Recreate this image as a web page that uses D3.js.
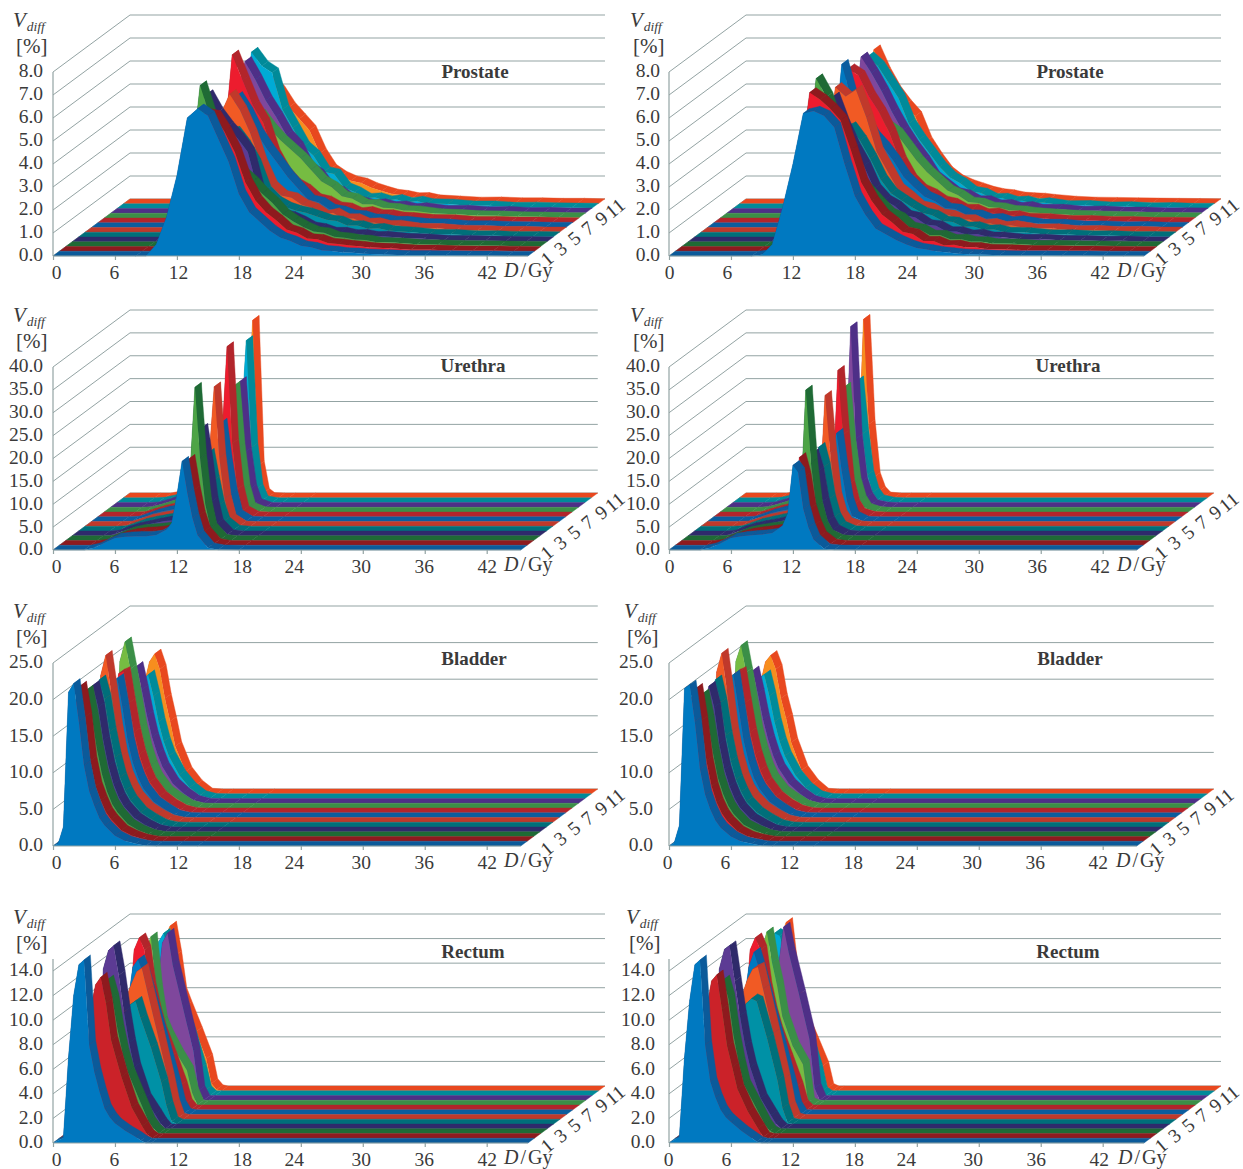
<!DOCTYPE html>
<html>
<head>
<meta charset="utf-8">
<script src="https://d3js.org/d3.v7.min.js"></script>
<style>
    body { margin: 0; background: #fff; }
    svg { display: block; }
    text { font-family: "Liberation Serif", serif; fill: #3a3a3a; }
    .grid { stroke: #93a3a3; stroke-width: 1; fill: none; }
    .axis path, .axis line { stroke: #93a3a3; stroke-width: 1.2; }
    .axis text { font-family: "Liberation Serif", serif; font-size: 19.5px; fill: #3a3a3a; }
</style>
</head>
<body>
<svg id="chart-area" width="1243" height="1169"></svg>
<script>
// Series run front to back, fraction numbers 1..12
var faceColors = ["#0079c1", "#ed1c2e", "#4da446", "#5c3b94", "#0091a6", "#f15a24",
                  "#0079c1", "#ed1c2e", "#76bc42", "#7f479c", "#00abd5", "#f78e1e"];
var topColors  = ["#0b5a9a", "#8e1a1e", "#1f6a35", "#2f2a6b", "#006f7a", "#c0392b",
                  "#0b5d9e", "#b2252b", "#3b8f47", "#4e2f87", "#008a99", "#e8481f"];
var rectumFace2 = "#cb2229";

var doseTicks = [0, 6, 12, 18, 24, 30, 36, 42];
var doseTickNudge = [3, -1, 1, 3, -7, -2, -1, 0];
var depthLabels = ["1", "3", "5", "7", "9", "11"];
var depthPositions = [0, 2, 4, 6, 8, 10];

var prostateTicks = [0, 1, 2, 3, 4, 5, 6, 7, 8];
var urethraTicks = [0, 5, 10, 15, 20, 25, 30, 35, 40];
var bladderTicks = [0, 5, 10, 15, 20, 25];
var rectumTicks = [0, 2, 4, 6, 8, 10, 12, 14];

var prostateDoses = [0, 8, 9, 10, 11, 12, 13, 14, 15, 16, 17, 18, 19, 20, 21, 22, 23, 24, 25, 26, 27, 28, 29, 30, 32, 34, 36, 38, 40, 42, 44, 46];
var urethraDoses = [0, 3, 4, 5, 6, 7, 8, 9, 10, 11, 11.5, 12, 12.5, 13, 13.5, 14, 15, 16, 18, 45.3];
var bladderDoses = [0, .5, 1, 1.5, 2, 2.5, 3, 3.5, 4, 4.5, 5, 6, 7, 8, 9, 10, 12, 14, 45.3];
var rectumDoses = [0, 1, 1.5, 2, 2.5, 3, 3.5, 4, 4.5, 5, 5.5, 6, 7, 8, 8.5, 9, 9.5, 46];

var prostateLeft = [
    [0,0,0,.5,1.7,3.5,6,6.4,6.1,5.1,4.1,2.7,1.9,1.5,1.1,.8,.65,.45,.38,.25,.22,.15,.14,.1,.07,.03,.03,.02,.01,.01,0,0],
    [0,0,0,.3,1.3,3,5.4,6,5.9,5.2,4.3,3,2.2,1.7,1.35,.95,.8,.55,.52,.36,.32,.26,.22,.16,.13,.07,.06,.03,.02,.02,.01,0],
    [0,0,0,.2,1.2,2.9,7,5.6,4.7,3.7,3.2,2.8,2.3,1.9,1.4,1.1,.85,.65,.6,.42,.38,.3,.28,.2,.16,.1,.08,.05,.04,.03,.02,.01],
    [0,0,0,.2,1.2,3,6.4,5.6,5,4.5,3.9,2.2,1.6,1.2,1.1,.9,.65,.58,.42,.42,.32,.33,.24,.25,.16,.13,.07,.07,.04,.03,.02,.01],
    [0,0,0,.1,1,2.5,4,4.6,4.6,4,3.2,2,1.55,1.3,1.15,1.05,.9,.75,.7,.5,.5,.36,.38,.28,.22,.13,.12,.07,.06,.03,.03,.02],
    [0,0,0,.1,1,2.6,5,6,5.3,4.3,3,2,1.6,1.5,1.2,1.05,.75,.85,.6,.6,.4,.42,.3,.32,.18,.17,.1,.09,.05,.05,.02,.02],
    [0,0,0,.1,.9,2.4,4.5,5.7,5,4.1,3.4,2.8,2.2,1.7,1.2,1.1,.8,.72,.55,.52,.38,.37,.28,.28,.18,.16,.09,.09,.05,.04,.02,.02],
    [0,0,0,.1,.8,2.4,7.3,6.2,5.1,4.35,3,2.2,1.7,1.45,1.05,.95,.7,.65,.45,.5,.36,.36,.26,.24,.15,.14,.07,.07,.04,.04,.02,.01],
    [0,0,0,.1,.8,2.2,4,4.5,4.5,3.9,3.4,3,2.6,2.1,1.6,1.35,.95,.85,.6,.6,.45,.42,.33,.32,.2,.16,.11,.1,.06,.05,.03,.02],
    [0,0,0,.1,.9,4.5,6.6,5.8,4.9,4.2,3.4,2.9,2,1.7,1.1,.95,.6,.5,.38,.42,.3,.33,.22,.25,.13,.14,.08,.09,.04,.05,.02,.02],
    [0,0,0,.1,.9,2.8,6.8,6.2,5.9,4.3,3.5,2.7,2.3,1.6,1.5,.9,.72,.45,.48,.34,.4,.26,.33,.22,.2,.12,.12,.06,.07,.04,.03,.02],
    [0,0,0,.1,.8,2.3,4.5,5.4,4.9,4.2,3.7,3.2,2.2,1.5,1.2,1,.9,.7,.55,.42,.37,.27,.28,.18,.13,.08,.09,.05,.05,.03,.03,.01]
];
var prostateRight = [
    [0,0,.05,.5,2.1,4,6.2,6.3,6.1,5.6,4,2.6,1.8,1.2,.95,.7,.5,.35,.28,.2,.15,.1,.08,.06,.03,.02,.02,.01,.01,0,0,0],
    [0,0,.02,.4,1.7,3.5,6.9,6.6,6.2,5.7,4.4,3,2.2,1.6,1.25,.85,.75,.45,.45,.26,.28,.17,.17,.1,.08,.04,.04,.02,.02,.01,0,0],
    [0,0,0,.3,1.5,3.3,7.3,6.5,5.1,3.8,2.9,2.4,1.9,1.45,1.25,.85,.75,.5,.5,.32,.33,.22,.22,.13,.12,.06,.06,.04,.03,.02,.01,.01],
    [0,0,0,.2,1.2,3,5.5,6.3,5.1,4.1,3.3,2.3,1.8,1.55,1.15,1.05,.75,.7,.45,.45,.3,.34,.22,.22,.12,.12,.06,.06,.03,.04,.01,.01],
    [0,0,0,.1,1,2.4,4,4.6,4.8,4.2,3.4,2.5,1.9,1.6,1.3,1.05,.95,.7,.65,.45,.46,.32,.33,.22,.2,.11,.11,.06,.06,.03,.03,.02],
    [0,0,0,.1,1,2.6,6.3,5.9,6.2,5,3.5,2.7,1.9,1.55,1.15,1.05,.8,.75,.55,.55,.35,.39,.26,.3,.15,.16,.08,.09,.04,.05,.02,.02],
    [0,0,0,.1,.9,2.4,7.1,5.5,4.8,4,3.5,2.9,2.2,1.75,1.35,1.15,.85,.8,.57,.55,.38,.4,.26,.3,.16,.15,.08,.08,.04,.05,.02,.02],
    [0,0,0,.1,.8,2.4,6.7,6.4,5.5,4.8,3.9,2.7,1.9,1.45,1.25,.95,.85,.6,.6,.4,.44,.29,.32,.21,.19,.11,.11,.06,.06,.03,.03,.02],
    [0,0,0,.1,.8,2.2,5,4.5,4.4,4,3.7,3.1,2.5,2,1.6,1.2,1,.7,.65,.48,.45,.34,.32,.25,.18,.13,.1,.08,.05,.04,.03,.02],
    [0,0,0,.1,.9,3,6.8,6.1,5.3,4.4,3.6,2.9,2.3,1.6,1.25,.9,.8,.55,.55,.37,.39,.26,.3,.18,.18,.1,.11,.06,.06,.03,.03,.02],
    [0,0,0,.1,.9,2.8,6.6,6.2,5.5,4.8,3.7,3,2.4,1.8,1.35,1.1,.75,.67,.45,.46,.31,.34,.22,.26,.13,.14,.08,.09,.04,.05,.02,.02],
    [0,0,0,.1,.8,2.5,6.7,5.7,4.9,4.3,3.8,2.7,2,1.4,1.05,.85,.7,.55,.45,.4,.3,.27,.25,.2,.12,.08,.07,.05,.04,.03,.02,.01]
];
var urethraLeft = [
    [0,0,.5,1.6,2.6,2.9,3,3,3.3,4.5,5.9,12,19.4,12.5,7,3.2,.5,.05,0,0],
    [0,0,.2,1.2,2.1,2.6,2.9,3,3.3,4.5,7,13,18.8,12,6.5,3,.4,0,0,0],
    [0,0,.1,1,1.9,2.4,2.6,2.8,3.1,4,6,14,33.5,18,8,2.8,.3,0,0,0],
    [0,0,.2,1.1,1.8,2.3,2.8,3.2,3.4,4,6,13,23.5,16,7.5,2.6,.3,0,0,0],
    [0,0,.1,.9,1.7,2.2,2.6,3,3.4,4.2,6,11,17,11,5.5,2,.2,0,0,0],
    [0,0,.1,.8,1.6,2.1,2.5,2.9,3.2,4,6.5,15,30.5,15,6,1.6,.1,0,0,0],
    [0,0,.1,.9,1.7,2.3,2.7,3.1,3.4,4.3,6.5,13,21.5,13,6,1.5,.1,0,0,0],
    [0,0,.1,.8,1.5,2,2.4,2.7,3.1,4,6.5,17,37.2,16,6,1.3,.1,0,0,0],
    [0,0,.1,.7,1.4,2,2.5,2.8,3.1,3.8,6,14,27.5,14,5,1,.1,0,0,0],
    [0,0,.1,.7,1.5,2.1,2.6,3,3.2,3.7,6,15,27.5,12,4,.8,0,0,0,0],
    [0,0,.1,.6,1.3,1.9,2.3,2.7,3,3.6,6,17,35.4,12,3,.4,0,0,0,0],
    [0,0,0,.5,1.2,1.7,2.2,2.6,2.9,3.2,6,18,38.8,7,1,.1,0,0,0,0]
];
var urethraRight = [
    [0,0,.5,1.5,2.6,3,3.2,3.4,3.7,5.3,8,18.5,17,9,5,2.3,.3,.05,0,0],
    [0,0,.2,1.2,2.1,2.7,3,3.3,3.6,5.5,8,19.2,15,8,4.5,2,.3,0,0,0],
    [0,0,.1,1,1.9,2.4,2.8,3.1,3.5,4.5,8,32.9,17,7.5,3.3,1.3,.2,0,0,0],
    [0,0,.2,1.1,1.8,2.3,2.7,3.2,3.6,4.5,7.5,18,14,7.5,3.3,1.3,.2,0,0,0],
    [0,0,.1,.9,1.7,2.2,2.7,3.1,3.6,4.6,8,18.3,14,7,3,1.1,.1,0,0,0],
    [0,0,.1,.8,1.6,2.1,2.5,3,3.4,4.2,7,28.6,16,6.5,2.5,.8,.1,0,0,0],
    [0,0,.1,.9,1.7,2.3,2.7,3,3.5,4.5,7,15,19.3,11,4.5,1.2,.1,0,0,0],
    [0,0,.1,.8,1.5,2,2.4,2.8,3.3,4.2,7,32,18,7,2.6,.8,.1,0,0,0],
    [0,0,.1,.7,1.4,2,2.5,2.8,3.2,4,7,27.3,15,6.5,2.6,.8,.1,0,0,0],
    [0,0,.1,.7,1.5,2.1,2.6,3,3.3,3.9,8,39.5,15,5.5,2.2,.6,.1,0,0,0],
    [0,0,.1,.6,1.3,1.9,2.3,2.7,3,3.7,7,26.6,15,6,2.2,.6,.1,0,0,0],
    [0,0,0,.5,1.2,1.7,2.2,2.6,2.9,3.3,8,39,16,4.5,1.4,.2,0,0,0,0]
];
var bladderLeft = [
    [0,.3,2.6,21,22.2,17,11,7.5,5.5,3.8,2.8,1.4,.7,.3,.05,0,0,0,0],
    [0,.2,2.2,19,21.2,17,11,7.5,5.6,4,3,1.5,.8,.3,.05,0,0,0,0],
    [0,.2,2,17,20,16.5,12,8.5,6.1,4.4,3.3,1.7,.9,.3,.05,0,0,0,0],
    [0,.2,2,17,20,17,12.5,9,6.5,4.7,3.5,1.9,1,.3,.05,0,0,0,0],
    [0,.2,2,17,20.1,17.5,13,9.5,6.8,5,3.7,2,1.1,.35,.05,0,0,0,0],
    [0,.2,2.2,20,22.8,18,13,9,6.5,4.8,3.6,2,1.1,.35,.05,0,0,0,0],
    [0,.1,1.5,14,18.5,19,15,10.5,7.5,5.5,4,2.2,1.2,.35,.05,0,0,0,0],
    [0,.1,1.5,14,19,19.3,15,11,8,5.8,4.2,2.3,1.2,.4,.05,0,0,0,0],
    [0,.2,2.2,20,22.7,19,15,11,8,5.8,4.2,2.3,1.3,.4,.05,0,0,0,0],
    [0,.1,1.5,13,18,18.7,15.5,12,9,6.8,5,2.7,1.4,.4,.05,0,0,0,0],
    [0,.1,1,8,14,16.2,16.9,14,10.5,7.8,5.8,3.2,1.5,.4,.05,0,0,0,0],
    [0,.1,1,8,15,18,19.1,17,13,9.9,6.5,3,1.2,.1,0,0,0,0,0]
];
var bladderRight = [
    [0,.4,2.8,21.5,22,17,10.5,7,5,3.5,2.5,1.3,.6,.3,.05,0,0,0,0],
    [0,.3,2.4,19.5,20.9,16.5,11,7.5,5.3,3.8,2.8,1.4,.7,.3,.05,0,0,0,0],
    [0,.2,2,17,19.5,16,11.5,8,5.8,4.2,3.1,1.6,.9,.3,.05,0,0,0,0],
    [0,.2,2,17,19.9,17,12,8.5,6.2,4.5,3.3,1.8,1,.3,.05,0,0,0,0],
    [0,.2,2,17.5,20.1,17,12.5,9,6.5,4.8,3.5,2,1.1,.35,.05,0,0,0,0],
    [0,.2,2.2,20.5,23.1,18,12.5,8.8,6.3,4.6,3.5,2,1.1,.35,.05,0,0,0,0],
    [0,.1,1.5,14,19,19.5,15,10.5,7.5,5.4,4,2.2,1.2,.35,.05,0,0,0,0],
    [0,.1,1.5,14,19,19.3,15,11,8,5.8,4.2,2.3,1.2,.4,.05,0,0,0,0],
    [0,.2,2.2,20,22.2,18.5,14.5,10.5,7.8,5.6,4.1,2.3,1.3,.4,.05,0,0,0,0],
    [0,.1,1.5,13,17.5,18.1,15,11.5,8.7,6.5,4.8,2.7,1.4,.4,.05,0,0,0,0],
    [0,.1,1,8,14,16.4,16.9,14,10.5,7.8,5.8,3.2,1.5,.4,.05,0,0,0,0],
    [0,.1,1,8,15,18,18.9,17,13,10.3,7,3.2,1.3,.1,0,0,0,0,0]
];
var rectumLeft = [
    [0,.4,7,12,14.5,14.9,8,5.8,4.2,2.8,2.1,1.6,1,.5,.2,0,0,0],
    [0,0,.2,1,4,10.5,12.5,13.1,11,8,6.5,5,2.5,1,.3,0,0,0],
    [0,0,.1,.5,3,9,11,12.5,11,8.5,6.5,5,3,1,.4,0,0,0],
    [0,0,0,.4,3,13,14.5,14.9,12.5,9.5,7,5,2.5,1.2,.5,0,0,0],
    [0,0,0,.2,1,4,7,8,9,9.7,10,8.6,6.2,3.4,1.5,.2,0,0],
    [0,0,0,.2,1,4,8,10,11,12,12.3,10.5,7,3.4,1.3,.1,0,0],
    [0,0,0,.2,1,4,9,12,12.6,11.5,10,8.5,5.5,2.5,.8,.1,0,0],
    [0,0,0,.2,1.5,7,13,14,13,10,8,6.5,4.3,2,.5,0,0,0],
    [0,0,0,.1,1,5,10,12.5,13.7,9.5,6.8,5.8,4.2,2.8,1,0,0,0],
    [0,0,0,.1,.5,1.5,3.5,6,9,12.8,13.6,11,7.5,4,.8,0,0,0],
    [0,0,0,.1,.8,4.5,10,12.5,13.2,11.5,9.5,7.5,5,2.2,.4,0,0,0],
    [0,0,0,.1,.8,4,9,12.5,13.4,11,8,6.9,4.8,2.6,.6,.1,0,0]
];
var rectumRight = [
    [0,.5,7,11.6,14.5,14.9,8,5,3.7,2.7,2.1,1.7,1,.4,.1,0,0,0],
    [0,0,.2,1,4,10.5,12.8,13.3,10.5,7.5,5.8,4,2.2,.8,.1,0,0,0],
    [0,0,.1,.5,3,9,11,12.5,11,8,5.8,4,2.4,.8,.2,0,0,0],
    [0,0,0,.4,3,13,14.6,14.9,12,9.2,6.8,5,2.5,1.1,.4,0,0,0],
    [0,0,0,.2,1,4,7,8.2,9.2,9.8,10.2,10,7,3.6,1.3,.1,0,0],
    [0,0,0,.2,1,4,8,10.2,11.4,12.2,12.4,10.6,7,3.3,1.1,.1,0,0],
    [0,0,0,.2,1,4,9,12,13.2,11.8,10.2,8.5,5.5,2.4,.7,0,0,0],
    [0,0,0,.2,1.5,7,13,14,13,10,8,6.5,4.2,1.9,.4,0,0,0],
    [0,0,0,.1,1,5,10,12.5,14.1,11.6,9.7,7.2,4.8,3.3,.2,0,0,0],
    [0,0,0,.1,.5,1.5,3,5.5,8,10.8,14.1,12,8.6,5,1,0,0,0],
    [0,0,0,.1,.8,4.5,10,13.2,13,11.5,9.5,7.5,5,2.2,.3,0,0,0],
    [0,0,0,.1,.8,4,9,12.5,13.7,10,7.5,6,4,2,.2,0,0,0]
];

DepthAreaChart = function(_parentElement, _opts){
    this.parentElement = _parentElement;
    this.opts = _opts;
    this.initVis();
};

DepthAreaChart.prototype.initVis = function(){
    var vis = this, o = vis.opts;

    vis.g = d3.select(vis.parentElement).append("g");

    vis.x = d3.scaleLinear().domain([0, 46]).range([o.x0, o.x0 + 475]);
    vis.y = d3.scaleLinear().domain([0, d3.max(o.ticks)]).range([o.y0, o.yTop]);
    // oblique depth: 12 series span the floor from the front edge to the back wall
    vis.zx = d3.scaleLinear().domain([0, 12]).range([0, 77]);
    vis.zy = d3.scaleLinear().domain([0, 12]).range([0, -57]);

    vis.drawWalls();
    vis.drawSeries();
    vis.drawAxes();
    vis.drawLabels();
};

DepthAreaChart.prototype.drawWalls = function(){
    var vis = this, o = vis.opts;
    var xEnd = vis.x(d3.max(o.doses)) + vis.zx(12);

    vis.g.selectAll(".back").data(o.ticks).enter().append("line")
        .attr("class", "grid back")
        .attr("x1", vis.x(0) + vis.zx(12))
        .attr("x2", xEnd)
        .attr("y1", function(d) { return vis.y(d) + vis.zy(12); })
        .attr("y2", function(d) { return vis.y(d) + vis.zy(12); });

    vis.g.selectAll(".side").data(o.ticks).enter().append("line")
        .attr("class", "grid side")
        .attr("x1", vis.x(0))
        .attr("x2", vis.x(0) + vis.zx(12))
        .attr("y1", function(d) { return vis.y(d); })
        .attr("y2", function(d) { return vis.y(d) + vis.zy(12); });
};

DepthAreaChart.prototype.drawSeries = function(){
    var vis = this, o = vis.opts;

    var area = d3.area()
        .x(function(d) { return vis.x(d.dose); })
        .y0(vis.y(0))
        .y1(function(d) { return vis.y(d.value); });

    // back series first so the nearer ones cover them
    d3.range(o.values.length - 1, -1, -1).forEach(function(k){
        var points = o.doses.map(function(dose, i) { return { dose: dose, value: o.values[k][i] }; });
        var layer = vis.g.append("g")
            .attr("transform", "translate(" + vis.zx(k) + "," + vis.zy(k) + ")");

        // top ribbon, one quad per segment
        layer.selectAll(".ribbon").data(d3.pairs(points)).enter().append("path")
            .attr("class", "ribbon")
            .attr("fill", topColors[k])
            .attr("stroke", topColors[k])
            .attr("stroke-width", 0.4)
            .attr("d", function(d) {
                var ax = vis.x(d[0].dose), ay = vis.y(d[0].value),
                    bx = vis.x(d[1].dose), by = vis.y(d[1].value),
                    sx = vis.zx(1), sy = vis.zy(1);
                return d3.line()([[ax, ay], [bx, by], [bx + sx, by + sy], [ax + sx, ay + sy]]) + "Z";
            });

        layer.append("path")
            .attr("class", "face")
            .attr("fill", (o.face2 && k == 1) ? o.face2 : faceColors[k])
            .attr("d", area(points));
    });
};

DepthAreaChart.prototype.drawAxes = function(){
    var vis = this, o = vis.opts;

    var xAxisCall = d3.axisBottom(vis.x)
        .tickValues(doseTicks)
        .tickFormat(d3.format("d"))
        .tickSize(4)
        .tickPadding(5)
        .tickSizeOuter(0);
    var xAxis = vis.g.append("g")
        .attr("class", "axis")
        .attr("transform", "translate(0," + o.y0 + ")")
        .call(xAxisCall);
    xAxis.select(".domain").attr("d", "M" + vis.x(0) + ",0H" + vis.x(d3.max(o.doses)));
    xAxis.selectAll(".tick text")
        .attr("dx", function(d, i) { return doseTickNudge[i] + o.tickDx; });

    var yAxisCall = d3.axisLeft(vis.y)
        .tickValues(o.ticks)
        .tickFormat(d3.format(".1f"))
        .tickSize(0)
        .tickPadding(o.labelGap);
    var yAxis = vis.g.append("g")
        .attr("class", "axis")
        .attr("transform", "translate(" + vis.x(0) + ",0)")
        .call(yAxisCall);
    yAxis.select(".domain").attr("d", "M0," + o.y0 + "V" + (o.yTop - o.axisOver));
    yAxis.selectAll(".tick text").attr("dy", "0.25em");
};

DepthAreaChart.prototype.drawLabels = function(){
    var vis = this, o = vis.opts;
    var xEnd = vis.x(d3.max(o.doses));

    vis.g.append("text")
        .attr("x", o.titleX)
        .attr("y", o.titleY)
        .attr("text-anchor", "middle")
        .attr("font-size", "19px")
        .attr("font-weight", "bold")
        .text(o.title);

    var vLabel = vis.g.append("text")
        .attr("x", o.unitX)
        .attr("y", o.unitY)
        .attr("font-size", "21px")
        .attr("font-style", "italic");
    vLabel.append("tspan").text("V");
    vLabel.append("tspan").attr("dx", 1).attr("dy", 4).attr("font-size", "13.5px").text("diff");

    vis.g.append("text")
        .attr("x", o.unitX + 3)
        .attr("y", o.unitY + 26)
        .attr("font-size", "21px")
        .text("[%]");

    var doseLabel = vis.g.append("text")
        .attr("x", o.x0 + o.doseLabelX)
        .attr("y", o.y0 + 21)
        .attr("font-size", "20px");
    doseLabel.append("tspan").attr("font-style", "italic").text("D");
    doseLabel.append("tspan").attr("dx", 2).text("/");
    doseLabel.append("tspan").attr("dx", 2).text("Gy");

    vis.g.selectAll(".depth").data(depthLabels).enter().append("text")
        .attr("class", "depth")
        .attr("font-size", "19.5px")
        .attr("text-anchor", "middle")
        .attr("transform", function(d, i) {
            var k = depthPositions[i] * 1.06 + 0.5;
            return "translate(" + (xEnd + vis.zx(k) + 20 + o.depthDx) + "," + (o.y0 + vis.zy(k) + 10) + ") rotate(-40)";
        })
        .text(function(d) { return d; });
};

var panels = [
    { title: "Prostate", doses: prostateDoses, values: prostateLeft, ticks: prostateTicks, x0: 53, y0: 256, yTop: 72, axisOver: 0, labelGap: 10, tickDx: 0, depthDx: 0, titleX: 475, titleY: 78, unitX: 13, unitY: 27, doseLabelX: 451 },
    { title: "Prostate", doses: prostateDoses, values: prostateRight, ticks: prostateTicks, x0: 669, y0: 256, yTop: 72, axisOver: 0, labelGap: 9, tickDx: -3, depthDx: -2, titleX: 1070, titleY: 78, unitX: 630, unitY: 27, doseLabelX: 448 },
    { title: "Urethra", doses: urethraDoses, values: urethraLeft, ticks: urethraTicks, x0: 53, y0: 550, yTop: 367, axisOver: 0, labelGap: 10, tickDx: 0, depthDx: 7, titleX: 473, titleY: 372, unitX: 13, unitY: 322, doseLabelX: 451 },
    { title: "Urethra", doses: urethraDoses, values: urethraRight, ticks: urethraTicks, x0: 669, y0: 550, yTop: 367, axisOver: 0, labelGap: 9, tickDx: -3, depthDx: 5, titleX: 1068, titleY: 372, unitX: 630, unitY: 322, doseLabelX: 448 },
    { title: "Bladder", doses: bladderDoses, values: bladderLeft, ticks: bladderTicks, x0: 53, y0: 846, yTop: 663, axisOver: 0, labelGap: 10, tickDx: 0, depthDx: 7, titleX: 474, titleY: 665, unitX: 13, unitY: 618, doseLabelX: 451 },
    { title: "Bladder", doses: bladderDoses, values: bladderRight, ticks: bladderTicks, x0: 669, y0: 846, yTop: 663, axisOver: 0, labelGap: 16, tickDx: -5, depthDx: 0, titleX: 1070, titleY: 665, unitX: 624, unitY: 618, doseLabelX: 447 },
    { title: "Rectum", doses: rectumDoses, values: rectumLeft, ticks: rectumTicks, face2: rectumFace2, x0: 53, y0: 1143, yTop: 971, axisOver: 12, labelGap: 10, tickDx: 0, depthDx: 0, titleX: 473, titleY: 958, unitX: 13, unitY: 924, doseLabelX: 451 },
    { title: "Rectum", doses: rectumDoses, values: rectumRight, ticks: rectumTicks, face2: rectumFace2, x0: 669, y0: 1143, yTop: 971, axisOver: 12, labelGap: 14, tickDx: -4, depthDx: -2, titleX: 1068, titleY: 958, unitX: 626, unitY: 924, doseLabelX: 449 }
];

panels.forEach(function(p){
    new DepthAreaChart("#chart-area", p);
});
</script>
</body>
</html>
